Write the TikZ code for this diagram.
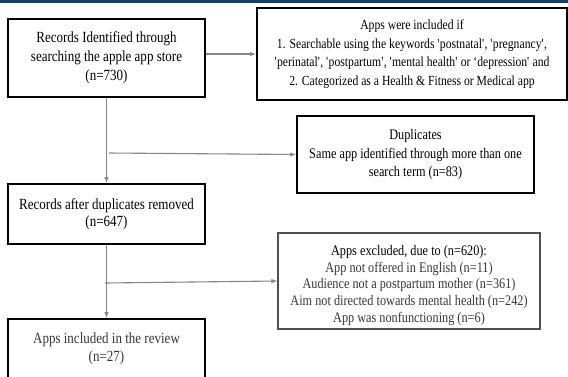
\documentclass[tikz,border=0pt]{standalone}
\usepackage{fontspec}
\setmainfont[FakeStretch=0.84]{Liberation Serif}
\usetikzlibrary{arrows.meta}
\definecolor{navy}{RGB}{25,60,100}
\definecolor{connc}{RGB}{135,135,135}
\definecolor{txtgray}{RGB}{55,55,55}
\definecolor{bordergray}{RGB}{80,80,80}
\newcommand{\sq}{\textquotesingle}
\begin{document}
\begin{tikzpicture}[x=1pt,y=-1pt,
  box/.style={draw=black, line width=1.6pt, align=center, inner sep=0pt},
  conn/.style={draw=connc, line width=1.1pt, -{Latex[length=6pt,width=4.5pt]}}]
\useasboundingbox (0,0) rectangle (568,376);
\clip (0,0) rectangle (568,376);
\fill[white] (0,0) rectangle (568,376);
\fill[navy] (0,0) rectangle (568,2.5);

\node[box, minimum width=197pt, minimum height=78pt,
  font=\fontsize{15.5}{19}\selectfont] (rec) at (106.5,58)
  {Records Identified through\\searching the apple app store\\(n=730)};

\node[box, minimum width=310pt, minimum height=92pt,
  font=\fontsize{13.9}{18.5}\selectfont] (incl) at (412,54)
  {Apps were included if\\1. Searchable using the keywords \sq postnatal\sq, \sq pregnancy\sq,\\\sq perinatal\sq, \sq postpartum\sq, \sq mental health\sq\ or `depression\sq\ and\\2. Categorized as a Health \& Fitness or Medical app};

\node[box, line width=1.4pt, minimum width=237pt, minimum height=77pt,
  font=\fontsize{14.6}{18.6}\selectfont] (dup) at (415.5,154.5)
  {Duplicates\\Same app identified through more than one\\search term (n=83)};

\node[box, minimum width=197pt, minimum height=60pt,
  font=\fontsize{15.5}{17.5}\selectfont] (rem) at (106.5,214)
  {Records after duplicates removed\\(n=647)};

\node[box, draw=bordergray, line width=1.1pt, minimum width=262pt, minimum height=96pt,
  label={[text=txtgray, font=\fontsize{14.6}{16.8}\selectfont, align=center, yshift=-4.5pt]center:{\textcolor{black}{Apps excluded, due to (n=620):}\\App not offered in English (n=11)\\Audience not a postpartum mother (n=361)\\Aim not directed towards mental health (n=242)\\App was nonfunctioning (n=6)}}]
  (exc) at (409,281) {};

\node[box, minimum width=197pt, minimum height=60pt, text=txtgray,
  font=\fontsize{15.5}{18}\selectfont] (fin) at (106.5,349)
  {Apps included in the review\\(n=27)};

\coordinate (b1) at (109,153);
\coordinate (b2) at (105,283);

\draw[conn] (rec.east |- incl.west) -- (incl.west);
\draw[conn] (rec.south) -- (rem.north);
\draw[conn] (b1) -- (dup.west);
\draw[conn] (rem.south) -- (fin.north);
\draw[conn] (b2) -- (exc.west);
\end{tikzpicture}
\end{document}
